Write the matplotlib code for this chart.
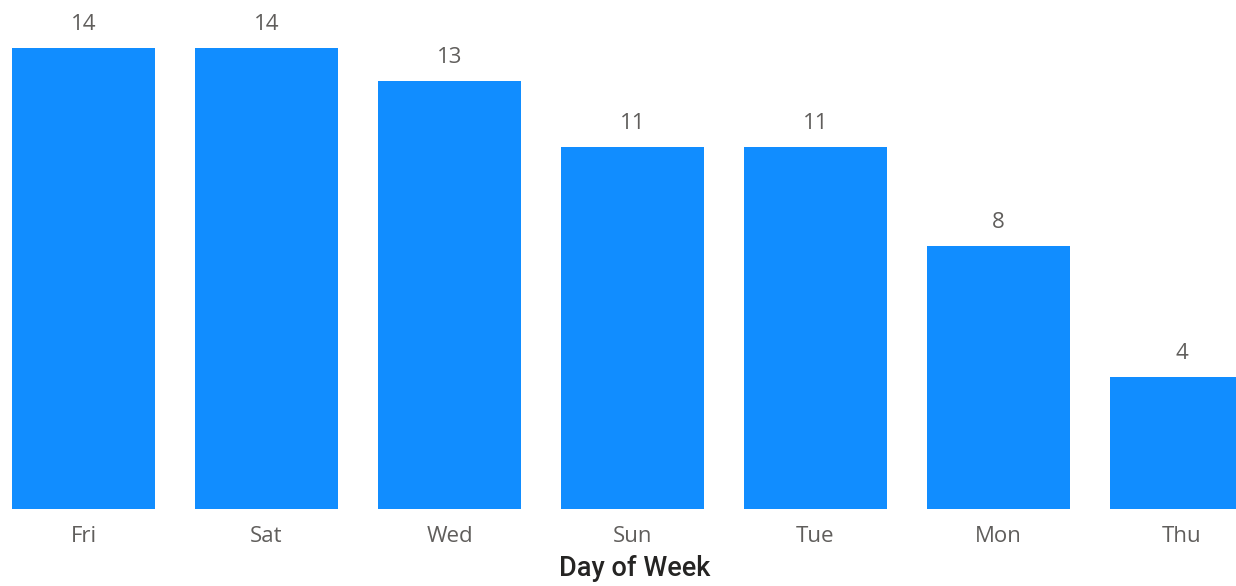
import matplotlib
matplotlib.use('Agg')
import matplotlib.pyplot as plt

days = ['Fri', 'Sat', 'Wed', 'Sun', 'Tue', 'Mon', 'Thu']
counts = [14, 14, 13, 11, 11, 8, 4]

BAR_COLOR = '#118DFF'
LABEL_COLOR = '#605E5C'
TITLE_COLOR = '#252423'

fig = plt.figure(figsize=(12.36, 5.86), dpi=100)
# axes spans full width; last bar gets clipped at the right edge like the original
ax = fig.add_axes([0, 77 / 586, 1, 509 / 586])

x = list(range(len(days)))
bars = ax.bar(x, counts, width=143 / 183, color=BAR_COLOR)

ax.set_xlim(-83.5 / 183, (1236 - 83.5) / 183)
ax.set_ylim(0, 509 / (461 / 14))

for b, v in zip(bars, counts):
    ax.annotate(str(v), (b.get_x() + b.get_width() / 2, v),
                xytext=(0, 13), textcoords='offset pixels',
                ha='center', va='bottom', fontsize=16,
                family='Open Sans', color=LABEL_COLOR)

ax.set_xticks(x)
ax.set_xticklabels(days, fontsize=16, family='Open Sans', color=LABEL_COLOR)
ax.tick_params(axis='x', length=0, pad=12)
ax.set_yticks([])
for s in ax.spines.values():
    s.set_visible(False)

fig.text(635 / 1236, 1 - 569 / 586, 'Day of Week', ha='center', va='center',
         fontsize=19.5, family='Roboto', weight='medium', color=TITLE_COLOR)

fig.savefig('out.png', dpi=100)
plt.close(fig)
